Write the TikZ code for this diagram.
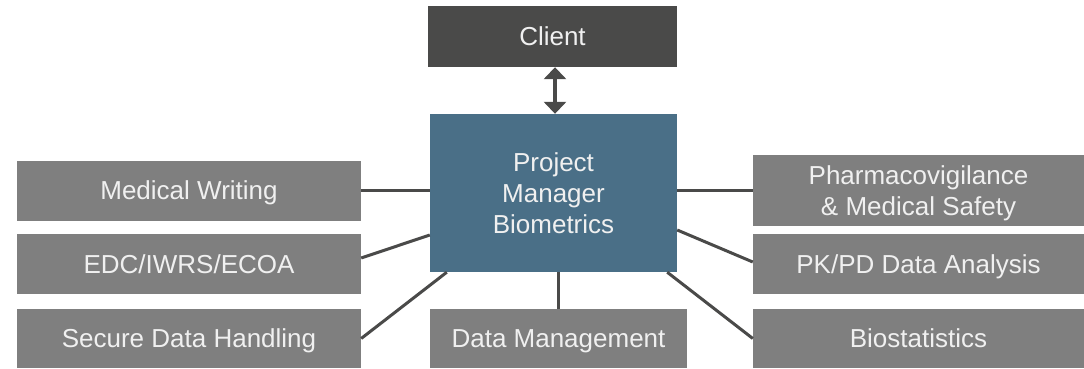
\documentclass[tikz,border=0pt]{standalone}
\usepackage{fontspec}
\setmainfont{Liberation Sans}
\usetikzlibrary{positioning,arrows.meta}
\definecolor{clientgrey}{HTML}{4A4A49}
\definecolor{pmblue}{HTML}{4A6F87}
\definecolor{unitgrey}{HTML}{7F7F7F}
\definecolor{linkgrey}{HTML}{4A4A49}
\definecolor{textwhite}{HTML}{F0F0F0}

\begin{document}
\begin{tikzpicture}[x=1pt,y=1pt,node distance=2cm,on grid,
		unit/.style={fill=unitgrey,text=textwhite,minimum width=344pt,minimum height=60pt,inner sep=0pt,text depth=0pt,align=center,font=\fontsize{26}{31}\selectfont},
		link/.style={draw=linkgrey,line width=3pt}]
		\useasboundingbox (0,0) rectangle (1084,368);
		
		% --- Boxes ---
		\node[unit, fill=pmblue, minimum width=247pt, minimum height=158pt] (pm) at (553.5,175) {Project\\Manager\\Biometrics};
		\node[unit, fill=clientgrey, minimum width=249pt, minimum height=61pt] (client) [above left=156.5pt and 1pt of pm] {Client};
		\node[unit]                     (mw)  [above left=2.5pt and 364.5pt of pm] {Medical Writing};
		\node[unit]                     (edc) [below=73.5pt of mw] {EDC/IWRS/ECOA};
		\node[unit, minimum height=59pt] (sdh) [below=74.5pt of edc] {Secure Data Handling};
		\node[unit, minimum width=331pt, minimum height=71pt] (pv) [above right=2.5pt and 365pt of pm] {Pharmacovigilance\\\& Medical Safety};
		\node[unit, minimum width=331pt] (pk)  [below=73.5pt of pv] {PK/PD Data Analysis};
		\node[unit, minimum width=331pt, minimum height=59pt] (bio) [below=74.5pt of pk] {Biostatistics};
		\node[unit, minimum width=257pt, minimum height=59pt] (dm)  [below right=145.5pt and 5pt of pm] {Data Management};
		
		% --- Links ---
		\draw[linkgrey, line width=4pt, {Triangle[width=22pt,length=12pt]}-{Triangle[width=22pt,length=12pt]}]
		([xshift=2.5pt]client.south) -- ([xshift=1.5pt]pm.north);
		
		\path[link]
		(mw) edge (pm.west |- mw)
		([yshift=6pt]edc.east) edge ([yshift=-42pt]pm.west)
		(sdh.east) edge ([xshift=17pt]pm.south west)
		
		(pv) edge (pm.east |- pv)
		([yshift=2pt]pk.west) edge ([yshift=-37pt]pm.east)
		(bio.west) edge ([xshift=-10pt]pm.south east)
		
		(dm.north) edge (pm.south -| dm.north);
	\end{tikzpicture}
\end{document}
